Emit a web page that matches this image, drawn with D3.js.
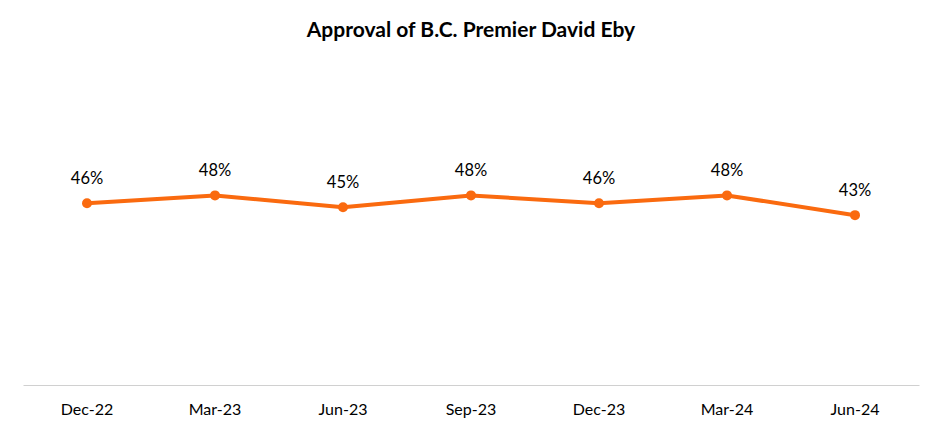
<!DOCTYPE html>
<html><head><meta charset="utf-8">
<script src="https://cdn.jsdelivr.net/npm/d3@7"></script>
<style>body{margin:0;background:#fff;}svg{display:block;}</style>
</head><body>
<svg id="chart" width="943" height="433"></svg>
<script>
const categories = ["Dec-22","Mar-23","Jun-23","Sep-23","Dec-23","Mar-24","Jun-24"];
const approval = [46, 48, 45, 48, 46, 48, 43];
const title = "Approval of B.C. Premier David Eby";

const svg = d3.select("#chart");
const W = 943, H = 433;
const font = "Lato, 'Open Sans', sans-serif";
const color = "#FA6A0F";

const x = d3.scaleBand().domain(categories).range([23, 919]);
const y = d3.scaleLinear().domain([0, 80]).range([385, 69]);

svg.append("rect").attr("width", W).attr("height", H).attr("fill", "#fff");

svg.append("text").attr("x", 471).attr("y", 37).attr("text-anchor", "middle")
  .attr("font-family", font).attr("font-weight", "bold").attr("font-size", 21)
  .attr("fill", "#000").text(title);

// baseline axis
const xAxis = d3.axisBottom(x).tickSize(0).tickPadding(0);
const gx = svg.append("g").attr("transform", `translate(0,${y(0)})`).call(xAxis);
gx.select(".domain").attr("stroke", "#d0d0d0").attr("stroke-width", 1);
gx.selectAll("text").attr("font-family", font).attr("font-size", 16)
  .attr("fill", "#000").attr("dy", null).attr("y", 30);

const cx = d => x(d) + x.bandwidth() / 2;
const line = d3.line().x((d, i) => cx(categories[i])).y(d => y(d));
svg.append("path").datum(approval).attr("d", line)
  .attr("fill", "none").attr("stroke", color).attr("stroke-width", 4)
  .attr("stroke-linejoin", "round");

svg.selectAll("circle.pt").data(approval).enter().append("circle")
  .attr("class", "pt").attr("cx", (d, i) => cx(categories[i])).attr("cy", d => y(d))
  .attr("r", 5).attr("fill", color);

svg.selectAll("text.lbl").data(approval).enter().append("text")
  .attr("class", "lbl").attr("x", (d, i) => cx(categories[i])).attr("y", d => y(d) - 19)
  .attr("text-anchor", "middle").attr("font-family", font).attr("font-size", 16.5)
  .attr("fill", "#000").text(d => d + "%");
</script>
</body></html>
